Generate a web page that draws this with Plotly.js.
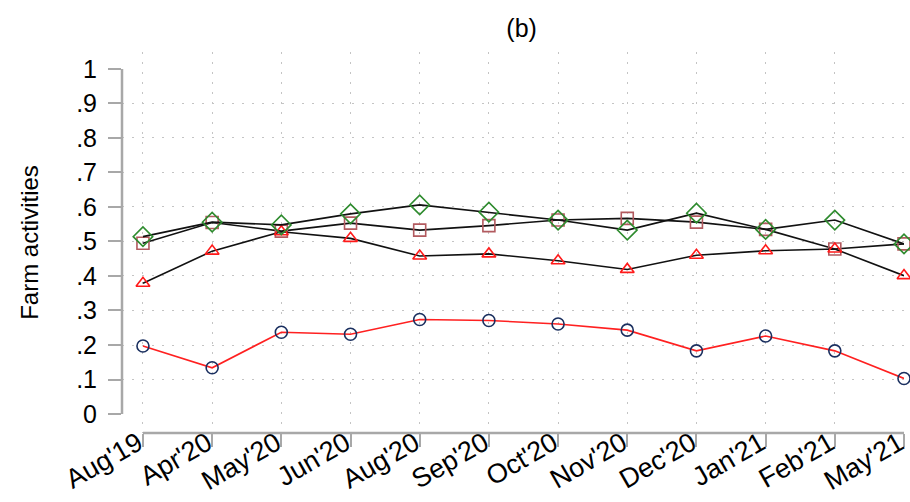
<!DOCTYPE html>
<html>
<head>
<meta charset="utf-8">
<script src="https://cdn.plot.ly/plotly-3.0.1.min.js"></script>
<style>html,body{margin:0;padding:0;background:#fff;}#chart{width:910px;height:502px;}</style>
</head>
<body>
<div id="chart"></div>
<script>
const months = ["Aug'19","Apr'20","May'20","Jun'20","Aug'20","Sep'20","Oct'20","Nov'20","Dec'20","Jan'21","Feb'21","May'21"];
const circleSeries   = [0.197,0.134,0.237,0.231,0.274,0.271,0.261,0.243,0.183,0.226,0.183,0.103];
const squareSeries   = [0.495,0.555,0.530,0.553,0.533,0.546,0.562,0.567,0.556,0.535,0.478,0.493];
const triangleSeries = [0.379,0.472,0.528,0.509,0.458,0.464,0.444,0.419,0.460,0.473,0.478,0.401];
const diamondSeries  = [0.514,0.556,0.548,0.580,0.606,0.585,0.562,0.533,0.582,0.535,0.562,0.493];
const yTickVals = [0,0.1,0.2,0.3,0.4,0.5,0.6,0.7,0.8,0.9,1];
const yTickText = ["0",".1",".2",".3",".4",".5",".6",".7",".8",".9","1"];
const yGridVals = [0.1,0.2,0.3,0.4,0.5,0.6,0.7,0.8,0.9];

const FONT = "Liberation Sans, Arial, sans-serif";
const traces = [
  {x: months, y: circleSeries, mode: 'lines+markers', cliponaxis: false, line: {color: '#ff2020', width: 1.6},
   marker: {symbol: 'circle-open', size: 12, color: '#1a2f5f', line: {width: 1.6}}},
  {x: months, y: squareSeries, mode: 'lines+markers', cliponaxis: false, line: {color: '#111', width: 1.6},
   marker: {symbol: 'square-open', size: 12, color: '#b25a5f', line: {width: 1.6}}},
  {x: months, y: triangleSeries, mode: 'lines+markers', cliponaxis: false, line: {color: '#111', width: 1.6},
   marker: {symbol: 'triangle-up-open', size: 12, color: '#ff1a1a', line: {width: 1.6}}},
  {x: months, y: diamondSeries, mode: 'lines+markers', cliponaxis: false, line: {color: '#111', width: 1.6},
   marker: {symbol: 'diamond-open', size: 15, color: '#2e8b2e', line: {width: 1.6}}},
  {x: [months[0]], y: [0.5], yaxis: 'y2', mode: 'markers', marker: {opacity: 0}, hoverinfo: 'skip'}
];

const layout = {
  width: 910, height: 502,
  margin: {l: 122, r: 6, t: 52, b: 69},
  paper_bgcolor: '#fff', plot_bgcolor: '#fff',
  showlegend: false,
  font: {family: FONT, color: '#000', size: 25},
  title: {text: '(b)', x: 0.511, xref: 'paper', y: 0.944, yanchor: 'middle', font: {size: 25, family: FONT, color: '#000'}},
  xaxis: {
    type: 'category', range: [-0.303, 11],
    showline: false, zeroline: false,
    showgrid: true, gridcolor: '#c4c4c4', gridwidth: 1, griddash: '2px,8px',
    ticks: 'outside', ticklen: 13, tickwidth: 2, tickcolor: '#a8a8a8',
    tickangle: -30, ticklabelstandoff: -30, ticklabelshift: -5,
    tickfont: {size: 27, family: FONT, color: '#000'}
  },
  yaxis: {
    range: [-0.055, 1.049], showline: false, zeroline: false, showgrid: false,
    tickvals: yTickVals, ticktext: yTickText,
    ticks: 'outside', ticklen: 13, tickwidth: 2, tickcolor: '#a8a8a8',
    ticklabelstandoff: 6,
    tickfont: {size: 25, family: FONT, color: '#000'},
    title: {text: 'Farm activities', standoff: 30, font: {size: 24, family: FONT, color: '#000'}}
  },
  yaxis2: {
    overlaying: 'y', range: [-0.055, 1.049], showline: false, zeroline: false,
    showticklabels: false, ticks: '', tickvals: yGridVals,
    showgrid: true, gridcolor: '#c4c4c4', gridwidth: 1, griddash: '2px,8px'
  },
  shapes: [
    {type: 'line', xref: 'paper', yref: 'y', x0: 0, x1: 0, y0: 0, y1: 1, line: {color: '#a8a8a8', width: 2.5}},
    {type: 'line', xref: 'x', yref: 'paper', x0: 0, x1: 11, y0: 0, y1: 0, line: {color: '#a8a8a8', width: 2.5}}
  ]
};
Plotly.newPlot('chart', traces, layout, {staticPlot: true, displayModeBar: false});
</script>
</body>
</html>
